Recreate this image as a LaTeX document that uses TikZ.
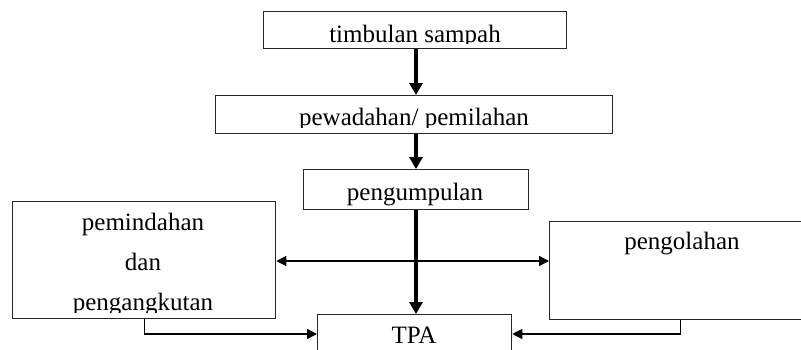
\documentclass[tikz,border=0pt]{standalone}
\usepackage{fontspec}
\setmainfont{Liberation Serif}
\usetikzlibrary{arrows.meta}
\begin{document}
\begin{tikzpicture}[x=1pt,y=-1pt,
  box/.style={draw=black!85, line width=1.3pt, inner sep=0pt, anchor=north west},
  lbl/.style={inner sep=0pt, anchor=base, font=\fontsize{25}{30}\selectfont},
  bigarrow/.style={line width=4pt, -{Triangle[length=12pt,width=13pt]}},
  thinarrow/.style={line width=1.3pt, -{Triangle[length=10pt,width=10pt]}},
  thinboth/.style={line width=1.3pt, {Triangle[length=10pt,width=10pt]}-{Triangle[length=10pt,width=10pt]}}]
\useasboundingbox (0,0) rectangle (801,349);
\clip (0,0) rectangle (801,349);
% boxes
\node[box, minimum width=303pt, minimum height=37pt] (b1) at (263,11) {};
\node[box, minimum width=397pt, minimum height=38pt] (b2) at (215,95) {};
\node[box, minimum width=225pt, minimum height=40pt] (b3) at (303,169) {};
\node[box, minimum width=263pt, minimum height=117pt] (b4) at (12,201) {};
\node[box, minimum width=262pt, minimum height=98pt] (b5) at (549,221) {};
\node[box, minimum width=194pt, minimum height=60pt] (tpa) at (317,314) {};
% labels
\begin{scope}
\clip (0,0) rectangle (801,43);
\node[lbl] (t1) at (415,42) {timbulan sampah};
\end{scope}
\begin{scope}
\clip (0,0) rectangle (801,127);
\node[lbl] (t2) at (414,125) {pewadahan/ pemilahan};
\end{scope}
\node[lbl] (t3) at (415,200) {pengumpulan};
\node[lbl] (t4a) at (143,230) {pemindahan};
\node[lbl] (t4b) at (143,270) {dan};
\begin{scope}
\clip (0,0) rectangle (801,312);
\node[lbl] (t4c) at (143,310) {pengangkutan};
\end{scope}
\node[lbl] (t5) at (682,249) {pengolahan};
\node[lbl] (t6) at (414,343) {TPA};
% connectors
\coordinate (ax) at (416,0);
\coordinate (hy) at (0,261);
\coordinate (cy) at (0,334);
\draw[thinboth] (b4.east |- hy) -- (b5.west |- hy);
\draw[bigarrow] (ax |- b1.south) -- (ax |- b2.north);
\draw[bigarrow] (ax |- b2.south) -- (ax |- b3.north);
\draw[bigarrow] (ax |- b3.south) -- (ax |- tpa.north);
\draw[thinarrow] (b4.south) -- (b4.south |- cy) -- (tpa.west |- cy);
\draw[thinarrow] (b5.south) -- (b5.south |- cy) -- (tpa.east |- cy);
\end{tikzpicture}
\end{document}
